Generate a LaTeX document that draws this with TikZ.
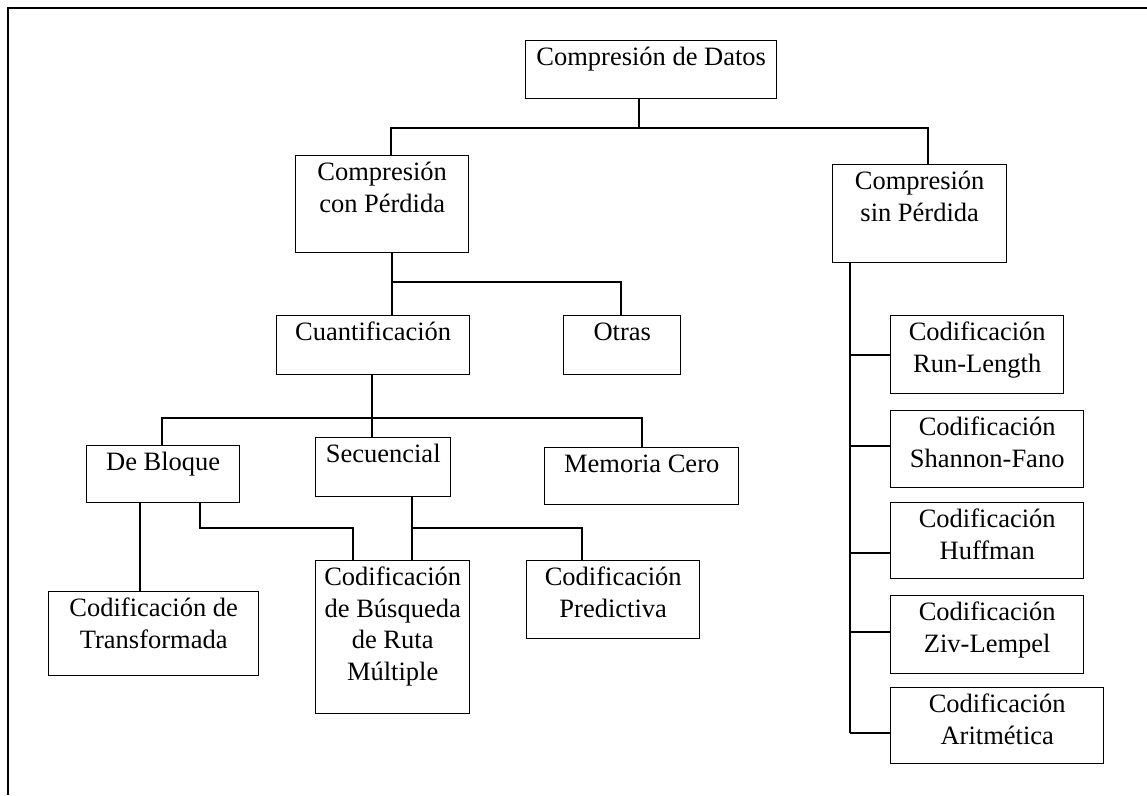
\documentclass[tikz,border=0pt]{standalone}
\usepackage{fontspec}
\setmainfont{Liberation Serif}

% box content: width, height, top-aligned centred text
\newcommand\bxt[3]{\parbox[c][#2pt][t]{#1pt}{\centering\rule{0pt}{25pt}#3\par}}

\tikzset{
  box/.style={draw, line width=1.4pt, inner sep=0pt, anchor=north west,
              font=\fontsize{26.5}{31.5}\selectfont},
  link/.style={line width=1.4pt},
  frame/.style={line width=1.5pt}
}

\begin{document}
\begin{tikzpicture}[x=1pt,y=-1pt]
\useasboundingbox (0,0) rectangle (1147,795);

% outer frame
\draw[frame] (8,795) -- (8,8) -- (1147,8);

% boxes
\node[box] (datos)  at (525,40)  {\bxt{251}{58}{Compresión de Datos}};
\node[box] (conP)   at (295,155) {\bxt{173}{97}{Compresión\\con Pérdida}};
\node[box] (sinP)   at (832,164) {\bxt{174}{98}{Compresión\\sin Pérdida}};
\node[box] (cuant)  at (276,315) {\bxt{193}{59}{Cuantificación}};
\node[box] (otras)  at (563,315) {\bxt{117}{59}{Otras}};
\node[box] (bloque) at (86,445)  {\bxt{153}{57}{De Bloque}};
\node[box] (secu)   at (315,437) {\bxt{135}{59}{Secuencial}};
\node[box] (memo)   at (544,447) {\bxt{194}{57}{Memoria Cero}};
\node[box] (trans)  at (48,591)  {\bxt{210}{84}{Codificación de\\Transformada}};
\node[box] (busq)   at (315,560) {\bxt{154}{153}{Codificación\\de Búsqueda\\de Ruta\\Múltiple}};
\node[box] (pred)   at (526,560) {\bxt{173}{78}{Codificación\\Predictiva}};
\node[box] (rl)     at (890,315) {\bxt{173}{78}{Codificación\\Run-Length}};
\node[box] (sf)     at (890,410) {\bxt{193}{77}{Codificación\\Shannon-Fano}};
\node[box] (huff)   at (890,502) {\bxt{193}{76}{Codificación\\Huffman}};
\node[box] (ziv)    at (890,595) {\bxt{193}{78}{Codificación\\Ziv-Lempel}};
\node[box] (arit)   at (890,687) {\bxt{213}{76}{Codificación\\Aritmética}};

% junction points
\coordinate (t0) at (639,128);
\coordinate (t1) at (391,128);
\coordinate (t2) at (928,128);
\coordinate (c1) at (392,282);
\coordinate (c2) at (621,282);
\coordinate (q0) at (372,418);
\coordinate (q1) at (162,418);
\coordinate (q2) at (642,418);
\coordinate (b1) at (140,528);
\coordinate (b2) at (200,528);
\coordinate (b3) at (353,528);
\coordinate (s1) at (412,528);
\coordinate (s2) at (582,528);
\coordinate (r0) at (850,262);
\coordinate (h1) at (850,355);
\coordinate (h2) at (850,446);
\coordinate (h3) at (850,553);
\coordinate (h4) at (850,632);
\coordinate (h5) at (850,733);

% top level
\draw[link] (t0 |- datos.south) -- (t0);
\draw[link] (t1 |- conP.north) -- (t1) -- (t2) -- (t2 |- sinP.north);

% lossy branch
\draw[link] (c1 |- conP.south) -- (c1 |- cuant.north);
\draw[link] (c1) -- (c2) -- (c2 |- otras.north);

\draw[link] (q0 |- cuant.south) -- (q0 |- secu.north);
\draw[link] (q1 |- bloque.north) -- (q1) -- (q2) -- (q2 |- memo.north);

\draw[link] (b1 |- bloque.south) -- (b1 |- trans.north);
\draw[link] (b2 |- bloque.south) -- (b2) -- (b3) -- (b3 |- busq.north);

\draw[link] (s1 |- secu.south) -- (s1 |- busq.north);
\draw[link] (s1) -- (s2) -- (s2 |- pred.north);

% lossless branch
\draw[link] (r0 |- sinP.south) -- (h5);
\draw[link] (h1) -- (h1 -| rl.west);
\draw[link] (h2) -- (h2 -| sf.west);
\draw[link] (h3) -- (h3 -| huff.west);
\draw[link] (h4) -- (h4 -| ziv.west);
\draw[link] (h5) -- (h5 -| arit.west);
\end{tikzpicture}
\end{document}
